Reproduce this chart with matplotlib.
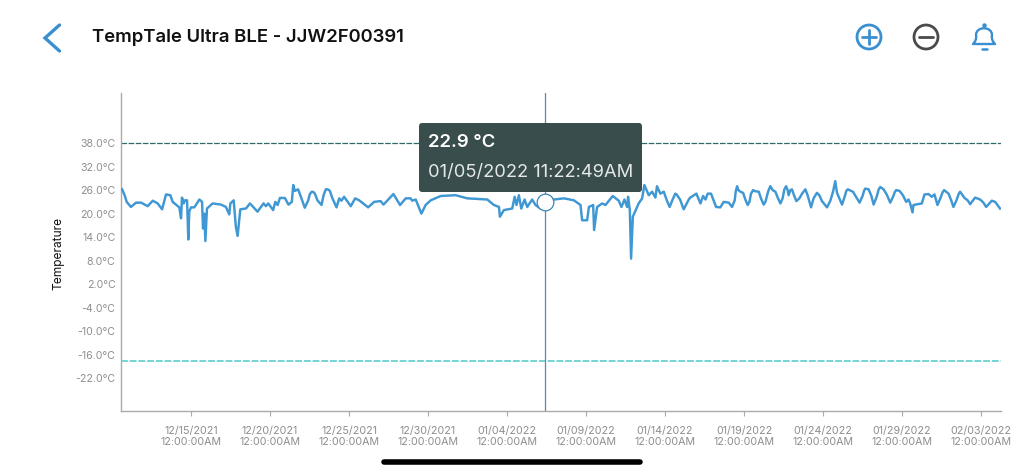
import datetime as dt
import matplotlib
matplotlib.use('Agg')
import matplotlib.pyplot as plt
import matplotlib.dates as mdates
from matplotlib.patches import Circle, FancyBboxPatch, PathPatch
from matplotlib.path import Path

plt.rcParams['font.family'] = ['Inter', 'DejaVu Sans']

# days after 12/15/2021 and temperature
days = [-4.36, -4.2, -4.07, -3.8, -3.48, -3.16, -2.74, -2.42, -2.11, -1.83, -1.58, -1.31, -1.16, -0.74, -0.63,
        -0.57, -0.46, -0.38, -0.25, -0.17, -0.11, 0, 0.21, 0.53, 0.7, 0.76, 0.84, 0.91, 1.01, 1.37, 1.9, 2.21,
        2.42, 2.49, 2.7, 2.84, 2.95, 3.12, 3.48, 3.73, 4.21, 4.59, 4.74, 4.89, 5.2, 5.33, 5.48, 5.63, 5.94, 6.17,
        6.38, 6.47, 6.57, 6.78, 7.2, 7.65, 7.84, 8.26, 8.53, 8.79, 9.21, 9.38, 9.52, 9.69, 10.11, 10.39, 10.64,
        11.21, 11.59, 12, 12.18, 12.81, 13.23, 13.59, 13.9, 14.0, 14.22, 14.58, 14.85, 15.17, 15.8, 16.75, 17.48,
        18.75, 19.17, 19.49, 19.55, 19.8, 20.33, 20.48, 20.6, 20.75, 20.9, 21.11, 21.28, 21.59, 21.8, 22.12, 22.48,
        22.96, 23.6, 24.23, 24.65, 24.75, 25.07, 25.18, 25.45, 25.51, 25.7, 26.02, 26.23, 26.69, 27.07, 27.24,
        27.43, 27.6, 27.66, 27.77, 27.85, 27.96, 28.33, 28.55, 28.69, 28.97, 29.18, 29.39, 29.49, 29.7, 29.92,
        30.29, 30.65, 31.18, 31.6, 31.98, 32.24, 32.41, 32.56, 32.7, 32.91, 33.23, 33.5, 33.71, 34.03, 34.24,
        34.41, 34.56, 34.77, 34.94, 35.23, 35.57, 35.93, 36.24, 36.66, 36.98, 37.3, 37.66, 37.82, 38.03, 38.31,
        38.5, 38.88, 39.24, 39.61, 39.93, 40.25, 40.46, 40.63, 40.77, 40.88, 41.2, 41.57, 41.89, 42.31, 42.67,
        42.88, 43.2, 43.62, 43.83, 44.25, 44.63, 44.84, 45.26, 45.41, 45.51, 45.66, 45.72, 46.25, 46.42, 46.67,
        46.88, 47.05, 47.24, 47.66, 47.94, 48.25, 48.67, 49.31, 49.62, 49.94, 50.32, 50.68, 50.89, 51.2]
temps = [26.2, 24.7, 23.0, 21.7, 22.8, 22.8, 21.9, 23.3, 22.6, 21.1, 24.9, 24.7, 23.0, 21.6, 18.8,
         24.1, 22.6, 23.4, 23.4, 13.4, 20.5, 21.6, 21.6, 23.6, 23.0, 16.2, 20.0, 13.0, 21.3, 22.6, 22.3, 21.7,
         19.8, 22.6, 23.4, 16.6, 14.3, 21.1, 21.3, 22.6, 20.5, 22.6, 21.9, 22.6, 20.9, 23.0, 22.2, 24.0, 24.0, 22.3,
         23.0, 27.3, 25.8, 26.2, 21.5, 25.6, 25.1, 22.2, 26.2, 25.8, 21.6, 23.9, 23.3, 24.3, 21.9, 23.9, 23.4,
         21.6, 23.0, 23.2, 22.3, 25.0, 22.2, 23.9, 23.9, 23.3, 23.6, 20.0, 22.2, 23.4, 24.5, 24.7, 23.9,
         23.6, 22.2, 21.7, 19.2, 20.9, 21.3, 24.3, 22.2, 24.7, 21.3, 23.6, 21.7, 23.6, 22.2, 21.3, 23.3,
         23.6, 23.9, 23.4, 22.2, 18.3, 18.3, 21.7, 22.2, 15.8, 21.7, 22.6, 22.2, 24.5, 23.3, 21.7,
         23.6, 21.7, 24.3, 20.9, 8.5, 19.2, 22.6, 23.9, 27.3, 24.7, 25.6, 24.1, 27.0, 25.1, 25.6,
         21.7, 25.1, 21.1, 24.1, 25.1, 22.6, 24.5, 23.6, 25.1, 25.1, 21.7, 21.6, 23.0, 22.8, 21.7,
         23.4, 27.0, 25.6, 25.3, 22.2, 26.0, 25.6, 22.3, 27.0, 25.6, 22.6, 27.0, 24.7, 26.2, 23.2,
         23.9, 26.2, 21.6, 25.3, 23.2, 21.6, 23.3, 25.6, 28.3, 25.3, 22.3, 26.2, 25.6, 22.8, 26.4,
         26.2, 22.3, 26.8, 26.2, 22.8, 26.0, 25.8, 23.0, 23.6, 22.6, 20.3, 22.2, 22.6, 24.9, 25.0,
         24.3, 24.9, 22.2, 26.0, 25.1, 21.7, 25.6, 22.4, 24.1, 23.6, 21.7, 23.3, 23.0, 21.3]

# extra readings on the shoulders of the rounded humps
extra_days = [6.99, 7.42, 7.52, 7.75, 8.0, 8.39, 8.66, 8.95, 30.1, 30.5, 30.75, 30.95, 31.35, 31.5,
              34.47, 34.64, 35.08, 35.34, 35.44, 35.72, 36.07, 36.35, 36.52, 36.81, 37.15, 37.44, 37.55, 37.76,
              37.93, 38.16, 38.67, 39.02, 39.4, 39.76, 41.38, 41.47, 41.72, 42.1, 42.5, 42.6, 43.05, 43.4, 43.52,
              44.05, 44.44, 44.55, 45.05, 47.45, 47.57, 48.1, 48.45, 48.58, 48.95, 49.15, 50.15]
extra_temps = [23.9, 23.4, 25.0, 25.5, 23.4, 24.7, 26.2, 23.9, 23.5, 23.8, 24.8, 23.6, 22.4, 23.6,
               25.6, 26.0, 23.6, 23.0, 25.1, 25.7, 23.9, 23.0, 25.6, 26.0, 23.9, 23.9, 26.2, 26.0,
               26.0, 24.7, 25.1, 24.7, 23.9, 24.7, 24.5, 25.8, 25.9, 24.2, 24.5, 25.9, 24.6, 24.4, 26.2,
               24.7, 24.4, 25.6, 24.7, 24.2, 25.5, 23.5, 23.5, 25.0, 24.0, 23.4, 22.8]

y_ticks = [38, 32, 26, 20, 14, 8, 2, -4, -10, -16, -22]
tick_dates = ['12/15/2021', '12/20/2021', '12/25/2021', '12/30/2021', '01/04/2022', '01/09/2022',
              '01/14/2022', '01/19/2022', '01/24/2022', '01/29/2022', '02/03/2022']
high_limit = 38
low_limit = -17.7
cursor_day = 22.42
cursor_temp = 22.9

start = dt.datetime(2021, 12, 15)
points = sorted(zip(days + extra_days, temps + extra_temps))
times = [start + dt.timedelta(days=p[0]) for p in points]
values = [p[1] for p in points]
cursor_time = start + dt.timedelta(days=cursor_day)

fig = plt.figure(figsize=(10.24, 4.73), dpi=100)
ax = fig.add_axes([121 / 1024, 62 / 473, 880 / 1024, 318 / 473])

ax.plot(times, values, color='#3f97d3', lw=1.75, solid_joinstyle='round', zorder=3)
ax.axhline(high_limit, color='#2f6a6a', lw=0.9, ls=(0, (4.5, 1.2)), zorder=2)
ax.axhline(low_limit, color='#4fc9c9', lw=1.1, ls=(0, (4.5, 1.2)), zorder=2)
ax.axvline(cursor_time, color='#4a8fba', lw=0.9, zorder=4)
ax.plot([cursor_time], [cursor_temp], 'o', ms=12, mfc='white', mec='#3a85b5', mew=0.9, zorder=5)

ax.set_xlim(start + dt.timedelta(days=-4.43), start + dt.timedelta(days=51.26))
ax.set_ylim(-30.4, 50.8)

ax.set_yticks(y_ticks)
ax.set_yticklabels(['%.1f°C' % v for v in y_ticks])
ax.tick_params(axis='y', length=0, pad=4, labelsize=7.6, labelcolor='#8e8e8e')

tick_times = [dt.datetime.strptime(t, '%m/%d/%Y') for t in tick_dates]
ax.set_xticks(tick_times)
ax.xaxis.set_major_formatter(mdates.DateFormatter('%m/%d/%Y\n%I:%M:%S%p'))
ax.tick_params(axis='x', length=3.5, width=0.8, color='#aaaaaa', pad=7, labelsize=7.7, labelcolor='#8e8e8e')

ax.spines['top'].set_visible(False)
ax.spines['right'].set_visible(False)
ax.spines['left'].set_color('#aaaaaa')
ax.spines['bottom'].set_color('#aaaaaa')
ax.spines['left'].set_linewidth(1.0)
ax.spines['bottom'].set_linewidth(1.0)

fig.text(58 / 1024, 1 - 253 / 473, 'Temperature', rotation=90, ha='center', va='center', fontsize=8.6, color='#111111')

# app chrome on top of the chart, in screen pixels
ui = fig.add_axes([0, 0, 1, 1], zorder=10)
ui.set_xlim(0, 1024)
ui.set_ylim(473, 0)
ui.axis('off')

blue = '#3a8fd0'
ui.plot([59.5, 45, 59.5], [25, 38, 51], color=blue, lw=2.4, solid_capstyle='round', solid_joinstyle='miter')
ui.text(92, 38, 'TempTale Ultra BLE - JJW2F00391', fontsize=13.3, fontweight='semibold', color='#111111',
        ha='left', va='center')

ui.add_patch(Circle((869, 37), 12, fc='none', ec=blue, lw=2))
ui.plot([862, 876], [37, 37], color=blue, lw=2, solid_capstyle='round')
ui.plot([869, 869], [30, 44], color=blue, lw=2, solid_capstyle='round')
ui.add_patch(Circle((926, 37), 12, fc='none', ec='#4a4a4a', lw=2))
ui.plot([919, 933], [37, 37], color='#4a4a4a', lw=2, solid_capstyle='round')

bell = Path([(973, 44), (977, 40), (976, 35), (976, 26), (992, 26), (992, 35), (991, 40), (995, 44), (973, 44)],
            [Path.MOVETO, Path.CURVE3, Path.CURVE3, Path.CURVE4, Path.CURVE4, Path.CURVE4, Path.CURVE3, Path.CURVE3,
             Path.CLOSEPOLY])
ui.add_patch(PathPatch(bell, fc='none', ec=blue, lw=1.7, joinstyle='round'))
ui.plot([984], [25.5], 'o', ms=2.2, color=blue)
ui.plot([981.5, 986.5], [49, 49], color=blue, lw=1.8, solid_capstyle='round')

ui.add_patch(FancyBboxPatch((422, 126), 217, 63, boxstyle='round,pad=3,rounding_size=3', fc='#394d4d', ec='none'))
ui.text(428, 142, '22.9 °C', color='white', fontsize=13.3, fontweight='semibold', ha='left', va='center')
ui.text(428, 172, '01/05/2022 11:22:49AM', color='#e4e8e8', fontsize=13.2, ha='left', va='center')

ui.plot([384, 640], [461.5, 461.5], color='black', lw=4, solid_capstyle='round')

fig.savefig('out.png', dpi=100)
